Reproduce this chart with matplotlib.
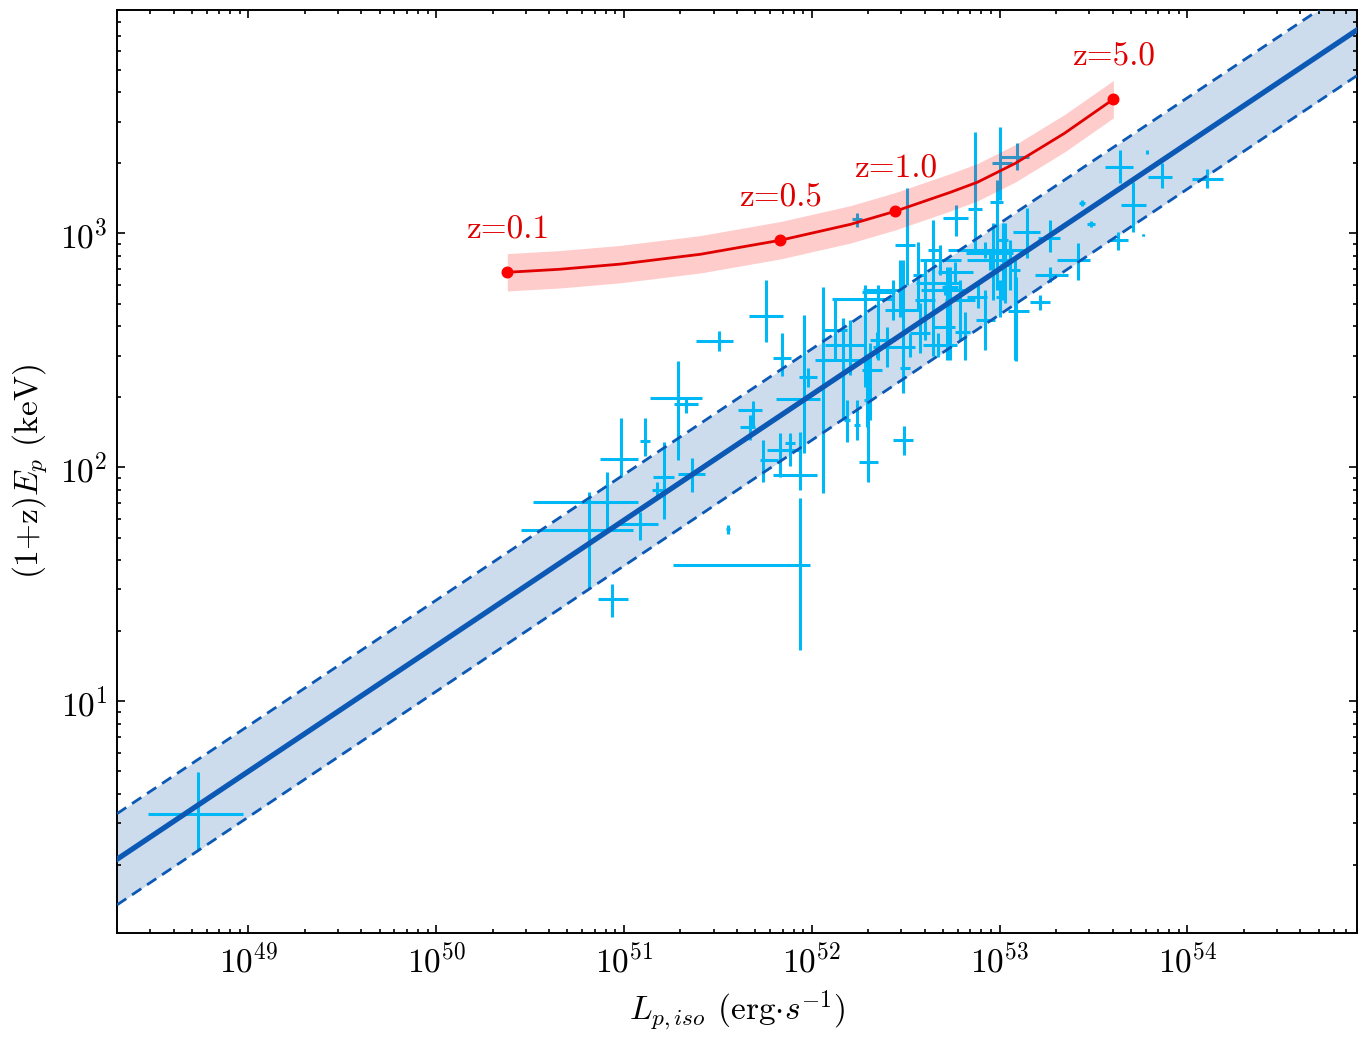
import numpy as np
import matplotlib
matplotlib.use("Agg")
import matplotlib.pyplot as plt

plt.rcParams['font.family'] = 'serif'
plt.rcParams['font.serif'] = ['cmr10', 'DejaVu Serif']
plt.rcParams['mathtext.fontset'] = 'cm'
plt.rcParams['axes.formatter.use_mathtext'] = True
plt.rcParams['axes.unicode_minus'] = False

# GRB sample, log10 values (errors in dex)
logL = [48.734, 50.938, 50.816, 50.912, 51.087, 50.986, 51.114, 51.215, 51.178, 51.364,
        51.290, 51.332, 51.508, 51.556, 51.939, 51.689, 51.673, 51.758, 51.844, 51.982,
        51.961, 52.062, 52.302, 52.493, 51.939, 51.742, 51.833, 51.886, 52.243, 53.004,
        53.095, 52.871, 52.988, 52.770, 53.643, 53.867, 53.787, 54.107, 53.713, 53.441,
        53.489, 53.766, 53.633, 53.420, 53.271, 53.217, 53.271, 53.090, 53.148, 53.020,
        52.887, 52.967, 52.925, 52.951, 52.648, 52.738, 52.509, 52.355, 52.285, 52.568,
        52.722, 52.578, 52.525, 52.403, 52.312, 52.168, 52.349, 52.488, 52.296, 52.190,
        52.243, 52.674, 52.818, 52.472, 52.648, 53.031, 53.084, 53.004, 52.765, 52.712,
        52.791, 52.925, 52.685, 53.058, 52.126, 52.206, 52.435, 52.605]
logL_lo = [0.266, 0.075, 0.362, 0.394, 0.122, 0.112, 0.027, 0.059, 0.027, 0.075,
           0.149, 0.064, 0.122, 0.011, 0.676, 0.080, 0.053, 0.091, 0.048, 0.048,
           0.154, 0.043, 0.053, 0.059, 0.144, 0.016, 0.069, 0.027, 0.027, 0.043,
           0.091, 0.037, 0.037, 0.069, 0.080, 0.075, 0.005, 0.080, 0.069, 0.016,
           0.021, 0.005, 0.053, 0.112, 0.080, 0.053, 0.069, 0.043, 0.075, 0.027,
           0.059, 0.144, 0.197, 0.122, 0.091, 0.043, 0.064, 0.245, 0.016, 0.027,
           0.075, 0.053, 0.080, 0.075, 0.043, 0.107, 0.037, 0.016, 0.016, 0.016,
           0.016, 0.080, 0.053, 0.080, 0.027, 0.027, 0.027, 0.021, 0.091, 0.133,
           0.080, 0.053, 0.107, 0.080, 0.064, 0.133, 0.160, 0.053]
logL_hi = [0.240, 0.085, 0.234, 0.165, 0.096, 0.091, 0.027, 0.053, 0.032, 0.069,
           0.128, 0.064, 0.075, 0.011, 0.053, 0.048, 0.027, 0.091, 0.043, 0.048,
           0.085, 0.043, 0.053, 0.048, 0.091, 0.080, 0.107, 0.027, 0.027, 0.064,
           0.059, 0.037, 0.032, 0.064, 0.069, 0.053, 0.005, 0.080, 0.064, 0.016,
           0.021, 0.005, 0.053, 0.064, 0.091, 0.053, 0.053, 0.064, 0.069, 0.027,
           0.048, 0.107, 0.144, 0.133, 0.144, 0.043, 0.043, 0.075, 0.160, 0.027,
           0.043, 0.053, 0.027, 0.043, 0.064, 0.107, 0.096, 0.037, 0.016, 0.016,
           0.016, 0.101, 0.027, 0.107, 0.027, 0.027, 0.027, 0.021, 0.091, 0.096,
           0.080, 0.053, 0.107, 0.080, 0.064, 0.080, 0.053, 0.053]
logEp = [0.517, 1.436, 1.731, 1.850, 1.756, 2.034, 2.111, 1.957, 1.902, 1.970,
         2.295, 2.269, 2.538, 1.735, 1.581, 2.243, 2.171, 2.645, 2.466, 2.385,
         2.291, 2.457, 2.021, 2.115, 1.966, 2.030, 2.073, 2.102, 3.060, 3.299,
         3.325, 3.103, 3.132, 3.064, 3.282, 3.239, 3.346, 3.231, 3.120, 3.128,
         3.038, 2.991, 2.970, 2.885, 2.820, 2.705, 2.979, 2.667, 3.004, 2.970,
         2.726, 2.915, 2.927, 2.885, 2.786, 2.769, 2.949, 2.718, 2.748, 2.820,
         2.598, 2.573, 2.513, 2.513, 2.414, 2.457, 2.543, 2.423, 2.286, 2.201,
         2.179, 2.521, 2.577, 2.671, 2.927, 2.863, 2.842, 2.726, 2.833, 2.756,
         2.714, 2.628, 2.885, 2.927, 2.585, 2.521, 2.756, 2.714]
logEp_lo = [0.154, 0.077, 0.248, 0.120, 0.068, 0.077, 0.064, 0.180, 0.034, 0.077,
            0.265, 0.038, 0.043, 0.021, 0.363, 0.073, 0.056, 0.111, 0.077, 0.043,
            0.231, 0.568, 0.085, 0.064, 0.064, 0.094, 0.115, 0.098, 0.034, 0.158,
            0.056, 0.188, 0.376, 0.077, 0.068, 0.047, 0.009, 0.038, 0.115, 0.013,
            0.013, 0.004, 0.043, 0.085, 0.030, 0.034, 0.060, 0.214, 0.111, 0.256,
            0.047, 0.201, 0.034, 0.043, 0.312, 0.312, 0.171, 0.261, 0.406, 0.150,
            0.141, 0.085, 0.043, 0.085, 0.214, 0.256, 0.077, 0.107, 0.115, 0.094,
            0.064, 0.051, 0.120, 0.030, 0.043, 0.162, 0.385, 0.085, 0.043, 0.021,
            0.171, 0.128, 0.064, 0.171, 0.128, 0.128, 0.128, 0.171]
logEp_hi = [0.180, 0.064, 0.162, 0.128, 0.051, 0.175, 0.098, 0.150, 0.034, 0.068,
            0.158, 0.030, 0.043, 0.017, 0.286, 0.038, 0.051, 0.154, 0.107, 0.038,
            0.359, 0.312, 0.256, 0.060, 0.184, 0.085, 0.073, 0.043, 0.026, 0.154,
            0.060, 0.329, 0.094, 0.056, 0.073, 0.060, 0.009, 0.043, 0.098, 0.013,
            0.013, 0.004, 0.034, 0.073, 0.034, 0.030, 0.077, 0.145, 0.103, 0.073,
            0.060, 0.128, 0.034, 0.043, 0.154, 0.085, 0.244, 0.060, 0.030, 0.141,
            0.256, 0.128, 0.060, 0.085, 0.115, 0.180, 0.034, 0.462, 0.184, 0.085,
            0.107, 0.051, 0.085, 0.214, 0.128, 0.180, 0.043, 0.073, 0.043, 0.021,
            0.085, 0.128, 0.064, 0.043, 0.128, 0.107, 0.043, 0.171]

# best-fit relation: log Ep = norm + slope * (log L - 52), scatter sigma (dex)
slope = 0.537
norm = 2.31
sigma = 0.195

# red track of a fixed burst moved in redshift
track_logL = [50.379, 50.661, 50.981, 51.407, 51.833, 52.206, 52.445, 52.738, 52.882, 53.084, 53.345, 53.606]
track_logEp = [2.833, 2.846, 2.868, 2.910, 2.970, 3.038, 3.094, 3.175, 3.218, 3.299, 3.427, 3.573]
track_err = 0.08
z_labels = ['z=0.1', 'z=0.5', 'z=1.0', 'z=5.0']
z_logL = [50.379, 51.833, 52.445, 53.606]
z_logEp = [2.833, 2.970, 3.094, 3.573]

xlim = (2.0e48, 8.0e54)
ylim = (1.02, 9000)

fig = plt.figure(figsize=(1367 / 200, 1043 / 200), dpi=200)
ax = fig.add_axes([0.0856, 0.1055, 0.9071, 0.8849])
ax.set_xscale('log')
ax.set_yscale('log')

# fit line and 1 sigma band
xx = np.logspace(np.log10(xlim[0]), np.log10(xlim[1]), 200)
fit = norm + slope * (np.log10(xx) - 52)
ax.fill_between(xx, 10**(fit - sigma), 10**(fit + sigma), color='#cddcec', lw=0, zorder=1)

# data
L = 10**np.array(logL)
Ep = 10**np.array(logEp)
xerr = [L - 10**(np.array(logL) - np.array(logL_lo)), 10**(np.array(logL) + np.array(logL_hi)) - L]
yerr = [Ep - 10**(np.array(logEp) - np.array(logEp_lo)), 10**(np.array(logEp) + np.array(logEp_hi)) - Ep]
ax.errorbar(L, Ep, xerr=xerr, yerr=yerr, fmt='none', ecolor='#00b8f5', elinewidth=1.1,
            capsize=0, zorder=2)

ax.plot(xx, 10**fit, color='#0b59b5', lw=1.9, zorder=4)
ax.plot(xx, 10**(fit + sigma), color='#0b59b5', lw=1.0, ls=(0, (4, 2.5)), zorder=4)
ax.plot(xx, 10**(fit - sigma), color='#0b59b5', lw=1.0, ls=(0, (4, 2.5)), zorder=4)

# redshift track
tL = 10**np.array(track_logL)
tE = np.array(track_logEp)
ax.fill_between(tL, 10**(tE - track_err), 10**(tE + track_err), color='red', alpha=0.2, lw=0, zorder=5)
ax.plot(tL, 10**tE, color='#e00000', lw=1.0, zorder=6)
ax.plot(10**np.array(z_logL), 10**np.array(z_logEp), 'o', color='#ff0000', ms=3.3, zorder=7)
for lab, lx, ly in zip(z_labels, z_logL, z_logEp):
    ax.annotate(lab, (10**lx, 10**ly), xytext=(0, 10), textcoords='offset points',
                ha='center', va='bottom', color='#e00000', fontsize=12)

ax.set_xlim(*xlim)
ax.set_ylim(*ylim)
ax.set_xlabel(r'$L_{p,iso}$ (erg$\cdot s^{-1}$)', fontsize=12)
ax.set_ylabel(r'(1+z)$E_p$ (keV)', fontsize=12)
ax.tick_params(which='both', direction='in', top=True, right=True, labelsize=12, width=0.6)
ax.tick_params(which='major', length=3)
ax.tick_params(which='minor', length=1.6)
for s in ax.spines.values():
    s.set_linewidth(0.7)

fig.savefig('out.png', dpi=200)
